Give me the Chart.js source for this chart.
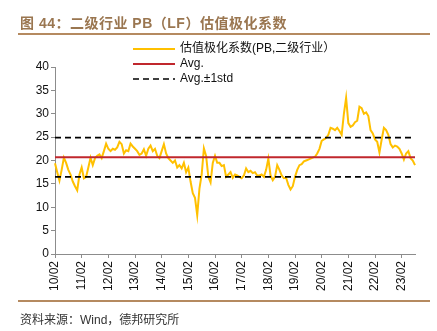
<!DOCTYPE html>
<html>
<head>
<meta charset="utf-8">
<script src="https://cdn.jsdelivr.net/npm/chart.js@4.4.0/dist/chart.umd.min.js"></script>
<style>
    body { margin: 0; width: 437px; height: 331px; background: #fff; overflow: hidden; position: relative; }
    #wrap { position: absolute; left: 0; top: 0; width: 437px; height: 331px; }
    .title { position: absolute; left: 20px; top: 12px; font: bold 14px "Liberation Sans", "Noto Sans CJK SC", sans-serif; letter-spacing: 0.5px; color: #9a7650; white-space: nowrap; }
    .rule { position: absolute; left: 18px; width: 412px; height: 2px; background: #b58a60; }
    .source { position: absolute; left: 20px; top: 310px; font: 12px "Liberation Sans", "Noto Sans CJK SC", sans-serif; color: #333; white-space: nowrap; }
</style>
</head>
<body>
<div id="wrap"><canvas id="chart" width="437" height="331"></canvas></div>
<div class="title">图 44：二级行业 PB（LF）估值极化系数</div>
<div class="rule" style="top:33px"></div>
<div class="rule" style="top:300px"></div>
<div class="source">资料来源：Wind，德邦研究所</div>

<script>
/* ==========================
   DATA
========================== */
// monthly, 2010-02 .. 2023-08
const startYear = 2010;
const startMonth = 2;
const yearTicks = ["10/02", "11/02", "12/02", "13/02", "14/02", "15/02", "16/02",
                   "17/02", "18/02", "19/02", "20/02", "21/02", "22/02", "23/02"];

const pbSpread = [
    19.4, 17.5, 15.7, 18.0, 20.6, 19.5, 18.0, 17.0, 15.5, 14.5, 13.6, 17.0,   // 10/02
    18.5, 16.2, 16.5, 18.5, 20.6, 19.0, 20.5, 21.0, 21.3, 20.5, 22.0, 23.6,   // 11/02
    22.5, 22.0, 22.5, 22.3, 22.8, 24.0, 23.5, 21.5, 22.2, 22.0, 23.6, 23.0,   // 12/02
    22.5, 22.0, 21.2, 21.5, 22.4, 21.0, 22.5, 23.2, 22.0, 22.5, 21.0, 20.5,   // 13/02
    22.0, 23.5, 21.5, 20.5, 20.0, 19.5, 20.0, 18.5, 19.0, 18.3, 19.5, 17.5,   // 14/02
    18.5, 15.5, 13.0, 12.0, 8.3, 14.0, 17.0, 22.6, 21.0, 16.5, 15.3, 19.5,    // 15/02
    21.0, 19.5, 19.5, 18.8, 19.0, 16.5, 17.0, 17.5, 16.3, 17.0, 16.8, 16.5,   // 16/02
    16.2, 16.8, 18.3, 17.5, 17.8, 17.3, 17.5, 16.8, 16.8, 17.0, 16.5, 18.0,   // 17/02
    20.4, 16.8, 15.8, 16.5, 19.0, 18.0, 16.8, 16.2, 16.3, 14.8, 13.8, 14.5,   // 18/02
    16.5, 18.0, 19.0, 19.2, 19.8, 20.0, 20.2, 20.4, 20.6, 20.8, 21.5, 22.5,   // 19/02
    24.2, 24.5, 24.8, 25.5, 27.0, 26.8, 26.5, 27.0, 26.3, 25.5, 30.0, 33.4,   // 20/02
    28.0, 27.2, 27.5, 28.2, 28.5, 31.5, 31.2, 30.0, 30.3, 29.5, 26.5, 25.8,   // 21/02
    24.5, 24.0, 21.7, 24.5, 27.0, 26.5, 25.5, 23.5, 22.8, 23.2, 23.0, 22.5,   // 22/02
    21.5, 20.2, 21.5, 22.0, 20.5, 20.0, 19.0                                  // 23/02
];

const avgValue = 20.7;
const stdLow = 16.5;
const stdHigh = 24.9;

/* ==========================
   BUILD
========================== */
const labels = [];
for (let i = 0; i < pbSpread.length; i++) {
    const m = startMonth - 1 + i;
    const yy = String((startYear + Math.floor(m / 12)) % 100).padStart(2, "0");
    const mm = String(m % 12 + 1).padStart(2, "0");
    labels.push(`${yy}/${mm}`);
}
const flat = v => pbSpread.map(() => v);

const FONT = '"Liberation Sans", "Noto Sans CJK SC", sans-serif';
const AXIS = "#8c8c8c";

const legendItems = [
    { text: "估值极化系数(PB,二级行业）", color: "#FFC000", dash: [], width: 2 },
    { text: "Avg.", color: "#C0272D", dash: [], width: 2 },
    { text: "Avg.±1std", color: "#000000", dash: [6, 4], width: 1.6 }
];

// legend sits over the top of the plot, one row per item
const legendPlugin = {
    id: "stackLegend",
    afterDraw(chart) {
        const ctx = chart.ctx;
        const a = chart.chartArea;
        ctx.save();
        ctx.font = `12px ${FONT}`;
        ctx.textBaseline = "middle";
        ctx.fillStyle = "#111";
        legendItems.forEach((item, i) => {
            const y = a.top - 18 + i * 15;
            ctx.beginPath();
            ctx.setLineDash(item.dash);
            ctx.strokeStyle = item.color;
            ctx.lineWidth = item.width;
            ctx.moveTo(a.left + 78, y);
            ctx.lineTo(a.left + 120, y);
            ctx.stroke();
            ctx.setLineDash([]);
            ctx.fillText(item.text, a.left + 125, y);
        });
        ctx.restore();
    }
};

new Chart(document.getElementById("chart"), {
    type: "line",
    data: {
        labels: labels,
        datasets: [
            { data: pbSpread, borderColor: "#FFC000", borderWidth: 2, order: 3 },
            { data: flat(avgValue), borderColor: "#C0272D", borderWidth: 2, order: 2 },
            { data: flat(stdLow), borderColor: "#000", borderWidth: 1.6, borderDash: [6, 4], order: 1 },
            { data: flat(stdHigh), borderColor: "#000", borderWidth: 1.6, borderDash: [6, 4], order: 1 }
        ]
    },
    options: {
        responsive: false,
        animation: false,
        layout: { padding: { left: 0, top: 67, right: 22, bottom: 37 } },
        elements: { point: { radius: 0 }, line: { tension: 0 } },
        plugins: { legend: { display: false }, tooltip: { enabled: false } },
        scales: {
            x: {
                type: "category",
                offset: false,
                afterBuildTicks: scale => {
                    scale.ticks = scale.ticks.filter(t => yearTicks.includes(labels[t.value]));
                },
                afterFit: scale => { scale.height = 40; },
                border: { display: true, color: AXIS, width: 1 },
                grid: { display: true, drawOnChartArea: false, drawTicks: true, tickLength: 4, color: AXIS },
                ticks: {
                    autoSkip: false,
                    maxRotation: 90,
                    minRotation: 90,
                    padding: 3,
                    color: "#111",
                    font: { family: FONT, size: 12 }
                }
            },
            y: {
                min: 0,
                max: 40,
                afterFit: scale => { scale.width = 55; },
                border: { display: true, color: AXIS, width: 1 },
                grid: { display: true, drawOnChartArea: false, drawTicks: true, tickLength: 4, color: AXIS },
                ticks: {
                    stepSize: 5,
                    padding: 2,
                    color: "#111",
                    font: { family: FONT, size: 12 }
                }
            }
        }
    },
    plugins: [legendPlugin]
});
</script>
</body>
</html>
